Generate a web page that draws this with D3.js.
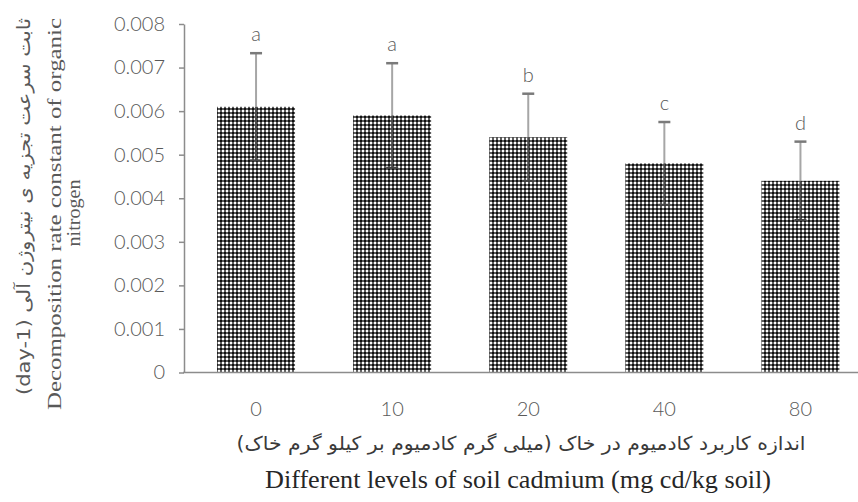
<!DOCTYPE html>
<html>
<head>
<meta charset="utf-8">
<script src="https://cdn.jsdelivr.net/npm/d3@7"></script>
<style>
  html, body { margin: 0; padding: 0; background: #fff; }
  svg { display: block; }
</style>
</head>
<body>
<svg id="chart" width="858" height="502"></svg>
<script>
// ---- data ----
const categories = ["0", "10", "20", "40", "80"];
const values = [0.0061, 0.0059, 0.0054, 0.0048, 0.0044];
const errors = [0.00123, 0.0012, 0.0010, 0.00095, 0.0009];
const letters = ["a", "a", "b", "c", "d"];
const yTickValues = [0, 0.001, 0.002, 0.003, 0.004, 0.005, 0.006, 0.007, 0.008];
const yTickLabels = ["0", "0.001", "0.002", "0.003", "0.004", "0.005", "0.006", "0.007", "0.008"];
const yTitleFa = "(day-1) ثابت سرعت تجزیه ی نیتروژن آلی";
const yTitleEn1 = "Decomposition rate constant of organic";
const yTitleEn2 = "nitrogen";
const xTitleFa = "اندازه کاربرد کادمیوم در خاک (میلی گرم کادمیوم بر کیلو گرم خاک)";
const xTitleEn = "Different levels of soil cadmium (mg cd/kg soil)";

// ---- layout ----
const svg = d3.select("#chart");
svg.append("rect").attr("width", 858).attr("height", 502).attr("fill", "#fff");

const axisX = 184, baseY = 372.5, topY = 24;
const y = d3.scaleLinear().domain([0, 0.008]).range([baseY, topY]);
const x = d3.scaleBand().domain(categories).range([188, 868.5])
  .paddingInner(0.427).paddingOuter(0.2135);
const tickFont = "Lato, 'Open Sans', sans-serif";

// pattern fill
const defs = svg.append("defs");
const pat = defs.append("pattern").attr("id", "chk")
  .attr("patternUnits", "userSpaceOnUse").attr("width", 4).attr("height", 4);
pat.append("rect").attr("width", 4).attr("height", 4).attr("fill", "#5e5e5e");
pat.append("rect").attr("x", 0).attr("y", 0).attr("width", 2).attr("height", 2).attr("fill", "#111");
pat.append("rect").attr("x", 2).attr("y", 2).attr("width", 2).attr("height", 2).attr("fill", "#fff");

// bars
svg.append("g").selectAll("rect").data(values).join("rect")
  .attr("x", (d, i) => x(categories[i]))
  .attr("width", x.bandwidth())
  .attr("y", d => y(d))
  .attr("height", d => baseY - y(d))
  .attr("fill", "url(#chk)");

// error bars
const eg = svg.append("g");
values.forEach((v, i) => {
  const cx = x(categories[i]) + x.bandwidth() / 2;
  const e = errors[i];
  eg.append("line").attr("x1", cx).attr("x2", cx)
    .attr("y1", y(v + e)).attr("y2", y(v))
    .attr("stroke", "#a6a6a6").attr("stroke-width", 2);
  eg.append("line").attr("x1", cx).attr("x2", cx)
    .attr("y1", y(v)).attr("y2", y(v - e))
    .attr("stroke", "#4a4a4a").attr("stroke-width", 2);
  eg.append("line").attr("x1", cx - 6).attr("x2", cx + 6)
    .attr("y1", y(v + e)).attr("y2", y(v + e))
    .attr("stroke", "#7a7a7a").attr("stroke-width", 2.5);
  eg.append("line").attr("x1", cx - 6).attr("x2", cx + 6)
    .attr("y1", y(v - e)).attr("y2", y(v - e))
    .attr("stroke", "#444").attr("stroke-width", 2);
  eg.append("text").attr("x", cx).attr("y", y(v + e) - 12)
    .attr("text-anchor", "middle")
    .attr("font-family", tickFont).attr("font-size", 20).attr("font-weight", 300)
    .attr("fill", "#595959").text(letters[i]);
});

// y axis
const yAxis = d3.axisLeft(y).tickValues(yTickValues)
  .tickFormat((d, i) => yTickLabels[i]).tickSize(5).tickSizeOuter(0).tickPadding(14);
const yg = svg.append("g").attr("transform", `translate(${axisX},0)`).call(yAxis);
yg.select(".domain").attr("stroke", "#8c8c8c").attr("stroke-width", 1.5);
yg.selectAll(".tick line").attr("stroke", "#8c8c8c").attr("stroke-width", 1.5);
yg.selectAll(".tick text").attr("font-family", tickFont).attr("font-weight", 300)
  .attr("font-size", 20).attr("fill", "#595959");

// x axis
const xAxis = d3.axisBottom(x).tickSize(0).tickPadding(29);
const xg = svg.append("g").attr("transform", `translate(0,${baseY})`).call(xAxis);
xg.select(".domain").remove();
xg.selectAll(".tick text").attr("font-family", tickFont).attr("font-weight", 300)
  .attr("font-size", 20).attr("fill", "#595959");
svg.append("line").attr("x1", axisX - 1).attr("x2", 858)
  .attr("y1", baseY).attr("y2", baseY)
  .attr("stroke", "#8c8c8c").attr("stroke-width", 1.5);

// y titles
svg.append("text").attr("transform", "translate(23,206.5) rotate(-90)")
  .attr("text-anchor", "middle").attr("dominant-baseline", "central")
  .attr("font-family", "'DejaVu Sans', sans-serif").attr("font-size", 18)
  .attr("textLength", 377).attr("lengthAdjust", "spacingAndGlyphs")
  .attr("fill", "#595959").text(yTitleFa);
svg.append("text").attr("transform", "translate(61,214) rotate(-90)")
  .attr("text-anchor", "middle")
  .attr("font-family", "'Liberation Serif', 'Times New Roman', serif").attr("font-size", 19)
  .attr("textLength", 392).attr("lengthAdjust", "spacingAndGlyphs")
  .attr("fill", "#595959").text(yTitleEn1);
svg.append("text").attr("transform", "translate(80,213) rotate(-90)")
  .attr("text-anchor", "middle")
  .attr("font-family", "'Liberation Serif', 'Times New Roman', serif").attr("font-size", 19)
  .attr("textLength", 67).attr("lengthAdjust", "spacingAndGlyphs")
  .attr("fill", "#595959").text(yTitleEn2);

// x titles
svg.append("text").attr("x", 521).attr("y", 450)
  .attr("text-anchor", "middle").attr("direction", "rtl").style("direction", "rtl")
  .attr("font-family", "'DejaVu Sans', sans-serif").attr("font-size", 19)
  .attr("textLength", 569).attr("lengthAdjust", "spacingAndGlyphs")
  .attr("fill", "#3a3a3a").text(xTitleFa);
svg.append("text").attr("x", 265).attr("y", 488)
  .attr("text-anchor", "start")
  .attr("font-family", "'Liberation Serif', 'Times New Roman', serif").attr("font-size", 25)
  .attr("textLength", 506).attr("lengthAdjust", "spacingAndGlyphs")
  .attr("fill", "#262626").text(xTitleEn);
</script>
</body>
</html>
